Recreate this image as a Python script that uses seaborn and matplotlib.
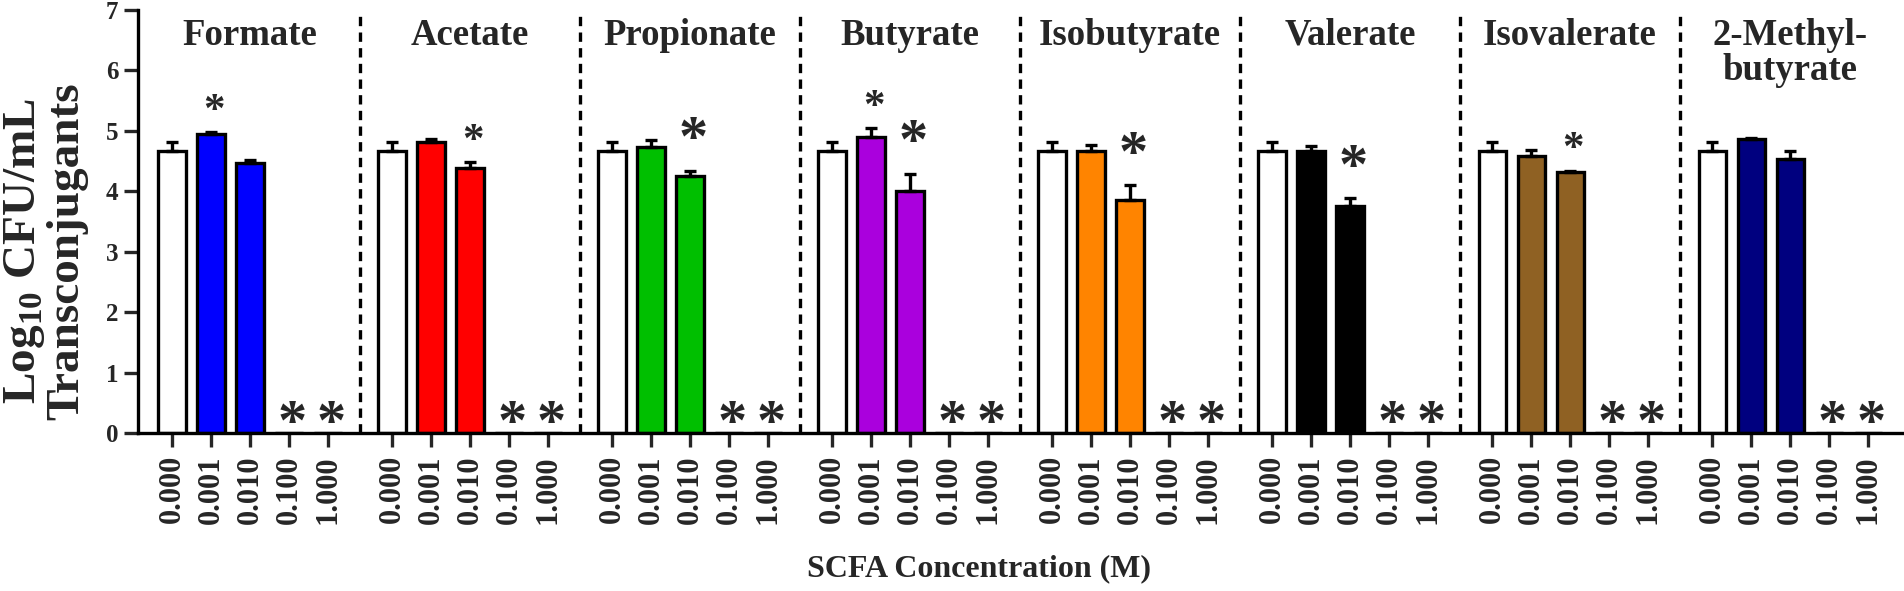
import numpy as np
import pandas as pd
import seaborn as sns
from matplotlib import pyplot as plt

# 数据
conc_labels = ['0.000', '0.001', '0.010', '0.100', '1.000']
scfa_names = ['Formate', 'Acetate', 'Propionate', 'Butyrate', 'Isobutyrate',
              'Valerate', 'Isovalerate', '2-Methyl-\nbutyrate']
scfa_colors = ['#0000FF', '#FF0000', '#00BF00', '#AA00DD', '#FF8400',
               '#000000', '#8F6123', '#00007F']

formate_mean = [4.66, 4.94, 4.47, 0, 0]
formate_sem = [0.16, 0.04, 0.04, 0, 0]
formate_sig = [0, 1, 0, 2, 2]

acetate_mean = [4.66, 4.81, 4.38, 0, 0]
acetate_sem = [0.16, 0.05, 0.10, 0, 0]
acetate_sig = [0, 0, 1, 2, 2]

propionate_mean = [4.66, 4.73, 4.26, 0, 0]
propionate_sem = [0.16, 0.11, 0.08, 0, 0]
propionate_sig = [0, 0, 2, 2, 2]

butyrate_mean = [4.66, 4.89, 4.00, 0, 0]
butyrate_sem = [0.16, 0.15, 0.29, 0, 0]
butyrate_sig = [0, 1, 2, 2, 2]

isobutyrate_mean = [4.66, 4.66, 3.86, 0, 0]
isobutyrate_sem = [0.16, 0.10, 0.24, 0, 0]
isobutyrate_sig = [0, 0, 2, 2, 2]

valerate_mean = [4.66, 4.67, 3.75, 0, 0]
valerate_sem = [0.16, 0.08, 0.13, 0, 0]
valerate_sig = [0, 0, 2, 2, 2]

isovalerate_mean = [4.66, 4.59, 4.32, 0, 0]
isovalerate_sem = [0.16, 0.09, 0.02, 0, 0]
isovalerate_sig = [0, 0, 1, 2, 2]

methylbutyrate_mean = [4.66, 4.87, 4.54, 0, 0]
methylbutyrate_sem = [0.16, 0.01, 0.13, 0, 0]
methylbutyrate_sig = [0, 0, 0, 2, 2]

all_mean = [formate_mean, acetate_mean, propionate_mean, butyrate_mean,
            isobutyrate_mean, valerate_mean, isovalerate_mean, methylbutyrate_mean]
all_sem = [formate_sem, acetate_sem, propionate_sem, butyrate_sem,
           isobutyrate_sem, valerate_sem, isovalerate_sem, methylbutyrate_sem]
all_sig = [formate_sig, acetate_sig, propionate_sig, butyrate_sig,
           isobutyrate_sig, valerate_sig, isovalerate_sig, methylbutyrate_sig]

GROUP_STEP = 5.643
LW = 2.4

sns.set_style('ticks')
plt.rcParams['font.family'] = ['Liberation Serif', 'DejaVu Serif']
plt.rcParams['font.weight'] = 'bold'
plt.rcParams['mathtext.fontset'] = 'custom'
plt.rcParams['mathtext.rm'] = 'Liberation Serif:bold'
plt.rcParams['mathtext.bf'] = 'Liberation Serif:bold'

# 整理成表
rows = []
for g, name in enumerate(scfa_names):
    for i, c in enumerate(conc_labels):
        rows.append({'pos': g * GROUP_STEP + i, 'value': all_mean[g][i],
                     'sem': all_sem[g][i], 'sig': all_sig[g][i],
                     'bar': f'{g}_{i}', 'conc': c,
                     'color': 'white' if i == 0 else scfa_colors[g]})
df = pd.DataFrame(rows)
palette = dict(zip(df['bar'], df['color']))

fig = plt.figure(figsize=(19.04, 5.91), dpi=100)
ax = fig.add_axes([0.0725, 0.2673, 0.9265, 0.716])

sns.barplot(data=df, x='pos', y='value', hue='bar', palette=palette, native_scale=True,
            width=0.7, dodge=False, edgecolor='black', linewidth=LW, errorbar=None,
            legend=False, saturation=1, ax=ax)

# 误差线（只画上半部分）
err = df[df['sem'] > 0]
ax.errorbar(err['pos'], err['value'], yerr=[np.zeros(len(err)), err['sem']], fmt='none',
            ecolor='black', elinewidth=LW, capsize=4.3, capthick=LW, zorder=1)

# 显著性星号
for _, r in df[df['sig'] > 0].iterrows():
    top = r['value'] + r['sem']
    if r['value'] == 0:
        size, off = 42, -4.0
    elif r['sig'] == 2:
        size, off = 42, 11.0
    else:
        size, off = 31, 7.5
    ax.annotate('*', (r['pos'] + 0.08, top), xytext=(0, off), textcoords='offset points',
                ha='center', va='baseline', fontsize=size, fontweight='bold')

# 分组虚线和标题
for g, name in enumerate(scfa_names):
    if g < len(scfa_names) - 1:
        ax.axvline(g * GROUP_STEP + 4.82, color='black', lw=LW, ls=(0, (2.8, 1.9)), ymax=1)
    ax.text(g * GROUP_STEP + 2, 6.87, name, ha='center', va='top', fontsize=26.5,
            fontweight='bold', linespacing=1.0)

ax.set_xlim(-0.87, 7 * GROUP_STEP + 4.87)
ax.set_ylim(0, 7)
ax.set_yticks(range(8))
ax.set_xticks(df['pos'])
ax.set_xticklabels(df['conc'], rotation=90, fontsize=22, fontweight='bold')
ax.tick_params(axis='y', labelsize=18, width=LW, length=10, pad=4)
ax.tick_params(axis='x', width=LW, length=10, pad=6)
for lab in ax.get_yticklabels():
    lab.set_fontweight('bold')

sns.despine(ax=ax)
for s in ['left', 'bottom']:
    ax.spines[s].set_linewidth(LW)
    ax.spines[s].set_color('black')

ax.set_ylabel('Log$_{10}$ CFU/mL\nTransconjugants', fontsize=34, fontweight='bold',
              linespacing=1.0)
ax.yaxis.set_label_coords(-0.028, 0.43)
ax.set_xlabel('SCFA Concentration (M)', fontsize=23, fontweight='bold')
ax.xaxis.set_label_coords(0.477, -0.286)

fig.savefig('out.png', dpi=100)
